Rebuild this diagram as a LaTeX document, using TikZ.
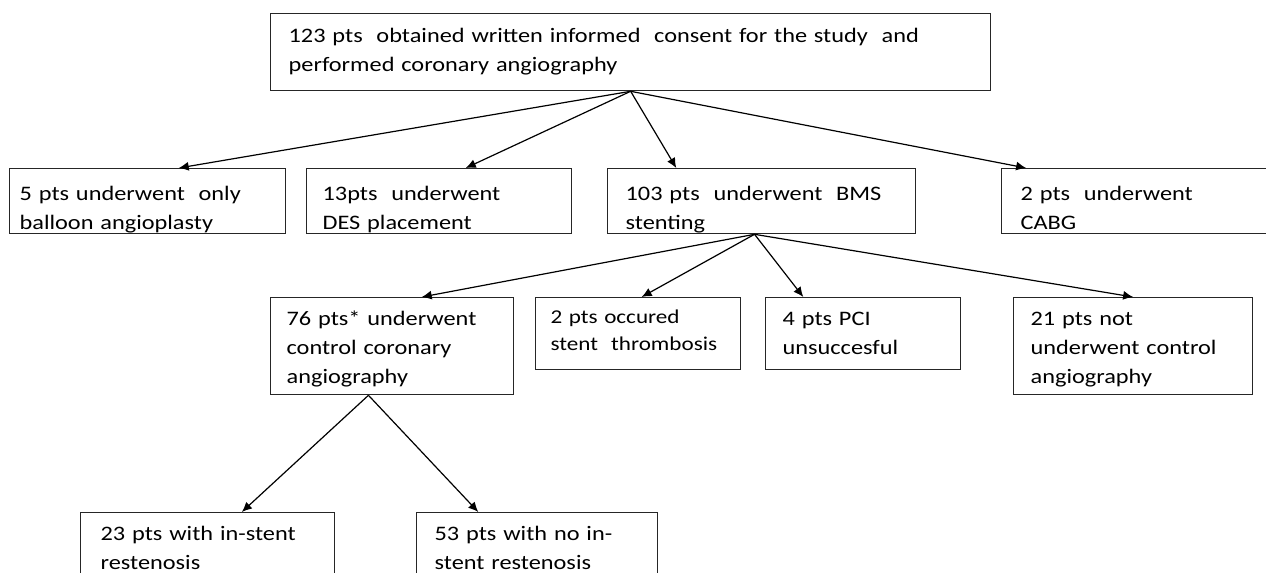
\documentclass[tikz,border=0pt]{standalone}
\usepackage{fontspec}
\setmainfont{Carlito}[FakeStretch=1.18]
\usetikzlibrary{arrows.meta, calc}

\begin{document}
\begin{tikzpicture}[
    x=0.5pt, y=-0.5pt,
    >={Latex[length=5pt, width=4.5pt]}, % small filled heads
    box/.style={draw=black!85, line width=0.65pt, anchor=north west, inner ysep=0pt,
                align=left, font=\fontsize{10.3pt}{14.5pt}\selectfont}, % boxes are placed by their top left corner
    two lines/.style={text height=16pt, text depth=16.5pt},
    three lines/.style={text height=14pt, text depth=34.5pt},
    short box/.style={text height=14pt, text depth=22pt},
    open box/.style={text height=14pt, text depth=50pt},
    flow/.style={->, line width=0.6pt}
]

    \useasboundingbox (0,0) rectangle (1266,573);

    % === Boxes ===
    \node[box, inner xsep=9pt, text width=342pt, text height=14.5pt, text depth=24pt] (consent) at (270,13)
        {123 pts~ obtained written informed~ consent for the study~ and\\performed coronary angiography};

    \node[box, two lines, inner xsep=5pt, text width=128pt] (balloon) at (9,168)
        {5 pts underwent~ only\\balloon angioplasty};
    \node[box, two lines, inner xsep=8pt, text width=116.5pt] (des) at (306,168)
        {13pts~ underwent\\DES placement};
    \node[box, two lines, inner xsep=9pt, text width=136pt] (bms) at (607,168)
        {103 pts~ underwent~ BMS\\stenting};
    \node[box, two lines, inner xsep=9.5pt, text width=114pt] (cabg) at (1001,168)
        {2 pts~ underwent\\CABG};

    \node[box, three lines, inner xsep=8pt, text width=105.5pt] (control) at (270,297)
        {76 pts* underwent\\control coronary\\angiography};
    \node[box, inner xsep=7.5pt, text width=87.5pt, text height=13pt, text depth=23pt,
          font=\fontsize{9.8pt}{13.5pt}\selectfont] (thromb) at (535,297)
        {2 pts occured\\stent~ thrombosis};
    \node[box, short box, inner xsep=8.5pt, text width=80.5pt] (pcifail) at (765,297)
        {4 pts PCI\\unsuccesful};
    \node[box, three lines, inner xsep=8.5pt, text width=102.5pt] (nocontrol) at (1013,297)
        {21 pts not\\underwent control\\angiography};

    \node[box, open box, inner xsep=10pt, text width=107pt] (isr) at (80,512)
        {23 pts with in-stent\\restenosis};
    \node[box, open box, inner xsep=9pt, text width=102.5pt] (noisr) at (416,512)
        {53 pts with no in-\\stent restenosis};

    % the second line of the upper boxes is cut at the frame
    \foreach \n in {balloon, des, bms, cabg}
        \fill[white] ($(\n.south west)+(1,0.8)$) rectangle ($(\n.south east)+(-1,9)$);

    % === Where the arrows meet the boxes ===
    \coordinate (balloon_in) at ($(balloon.north west)!0.612!(balloon.north east)$);
    \coordinate (des_in) at ($(des.north west)!0.6!(des.north east)$);
    \coordinate (bms_in) at ($(bms.north west)!0.224!(bms.north east)$);
    \coordinate (cabg_in) at ($(cabg.north west)!0.094!(cabg.north east)$);
    \coordinate (bms_out) at ($(bms.south west)!0.477!(bms.south east)$);
    \coordinate (control_in) at ($(control.north west)!0.621!(control.north east)$);
    \coordinate (thromb_in) at ($(thromb.north west)!0.517!(thromb.north east)$);
    \coordinate (pcifail_in) at ($(pcifail.north west)!0.195!(pcifail.north east)$);
    \coordinate (control_out) at ($(control.south west)!0.403!(control.south east)$);
    \coordinate (isr_in) at ($(isr.north west)!0.634!(isr.north east)$);
    \coordinate (noisr_in) at ($(noisr.north west)!0.257!(noisr.north east)$);

    % === Arrows ===
    \foreach \t in {balloon_in, des_in, bms_in, cabg_in}
        \draw[flow] (consent.south) -- (\t);

    \foreach \t in {control_in, thromb_in, pcifail_in, nocontrol.north}
        \draw[flow] (bms_out) -- (\t);

    \draw[flow] (control_out) -- (isr_in);
    \draw[flow] (control_out) -- (noisr_in);

\end{tikzpicture}
\end{document}
